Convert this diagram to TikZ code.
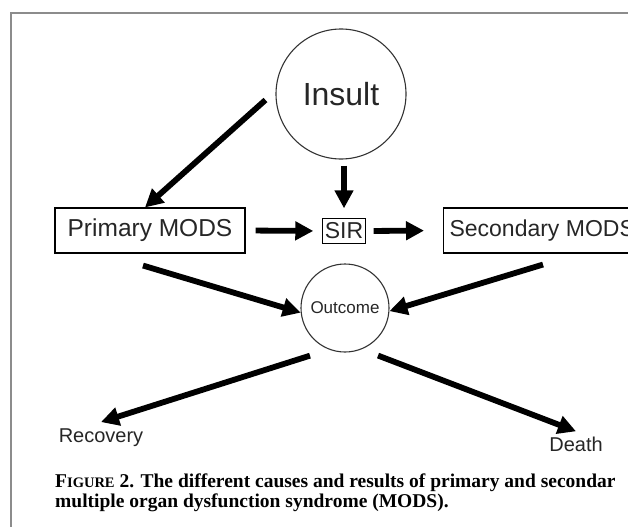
\documentclass[tikz,border=0pt]{standalone}
\usepackage{fontspec}
\setmainfont{Liberation Serif}
\newfontfamily\diagfont{Liberation Sans}
\usetikzlibrary{arrows.meta}

\newcommand{\smallcapsfake}[1]{{\fontsize{14.5}{20}\selectfont #1}}

\tikzset{
	fatarrow/.style={line width=5.8pt, -{Triangle[length=18pt,width=18pt]}},
	boxnode/.style={draw, line width=1.1pt, inner sep=0pt, text=black!85, font=\diagfont\fontsize{23}{27}\selectfont},
	ringnode/.style={draw=black!80, circle, line width=1.1pt, inner sep=0pt, text=black!85},
	endlabel/.style={inner sep=0pt, text=black!85, font=\diagfont\fontsize{20}{24}\selectfont},
	captionline/.style={anchor=base west, inner sep=0pt, font=\bfseries\fontsize{19.5}{20}\selectfont}
}

\begin{document}
\begin{tikzpicture}[x=1pt, y=-1pt]

	% page and frame
	\useasboundingbox (0,0) rectangle (628,527);
	\clip (0,0) rectangle (628,527);
	\draw[black!45, line width=2pt] (628,13) -- (11,13) -- (11,527);

	% circles
	\node[ringnode, minimum size=130pt, font=\diagfont\fontsize{32}{36}\selectfont] (insult) at (341,94) {Insult};
	\node[ringnode, minimum size=88pt, font=\diagfont\fontsize{17}{20}\selectfont] (outcome) at (345,308) {Outcome};

	% boxes
	\node[boxnode, minimum width=190pt, minimum height=45pt, font=\diagfont\fontsize{24.5}{28}\selectfont] (primary) at (150,230.5) {Primary MODS};
	\node[boxnode, inner xsep=2pt, inner ysep=4pt] (sir) at (344,231) {SIR};
	\node[boxnode, anchor=west, inner xsep=6pt, minimum height=45pt] (secondary) at (443,230.5) {Secondary MODS};

	% labels
	\node[endlabel, anchor=base] (recovery) at (101,442) {Recovery};
	\node[endlabel, anchor=base] (death) at (576,451) {Death};

	% caption
	\node[captionline] (caption1) at (55,487) {F\smallcapsfake{IGURE} 2. The different causes and results of primary and secondar};
	\node[captionline] (caption2) at (55,507) {multiple organ dysfunction syndrome (MODS).};

	% arrows from insult
	\draw[fatarrow] ([shift={(-10,6)}]insult.west) -- ([xshift=-5pt]primary.north);
	\draw[fatarrow, shorten <=6pt, shorten >=10pt] (insult.south -| sir.north) -- (sir.north);

	% arrows along the middle row
	\draw[fatarrow, shorten <=10pt, shorten >=9pt] (primary.east) -- (sir.west);
	\draw[fatarrow, shorten <=8pt, shorten >=19pt] (sir.east) -- (secondary.west);

	% arrows into outcome
	\draw[fatarrow] ([shift={(-7,12)}]primary.south) -- (outcome.186);
	\draw[fatarrow] ([shift={(100,11)}]secondary.south west) -- (outcome.-4);

	% arrows out of outcome
	\draw[fatarrow, shorten <=20pt] (outcome.249) -- ([yshift=6pt]recovery.north);
	\draw[fatarrow, shorten <=17.5pt] (outcome.292) -- ([yshift=5pt]death.north);

\end{tikzpicture}
\end{document}
